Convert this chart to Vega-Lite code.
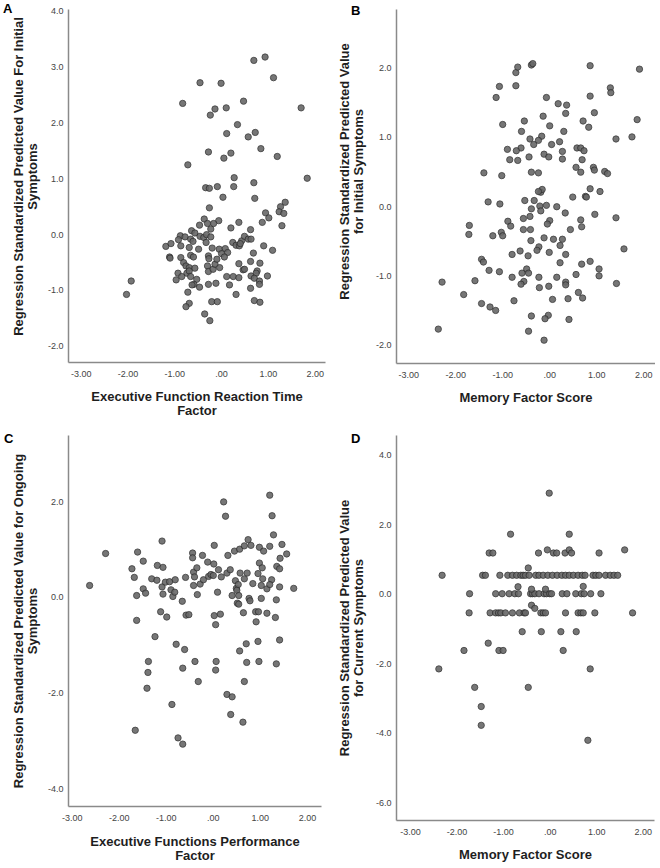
{
  "$schema": "https://vega.github.io/schema/vega-lite/v6.json",
  "background": "white",
  "padding": {"left": 3, "top": 2, "right": 0, "bottom": 0},
  "config": {
    "view": {"stroke": null},
    "axis": {"grid": false, "ticks": false, "tickSize": 0, "domainColor": "#8a8a8a", "domainWidth": 1.5, "labelFont": "Liberation Sans", "labelFontSize": 9, "labelColor": "#444444", "titleFont": "Liberation Sans", "titleFontSize": 13, "titleFontWeight": "bold", "titleColor": "#1e1e1e", "titleLineHeight": 14},
    "title": {"font": "Liberation Sans", "fontSize": 13, "fontWeight": "bold", "color": "#000000", "anchor": "start", "frame": "group", "offset": 0},
    "circle": {"size": 40, "fill": "#686868", "stroke": "#2a2a2a", "strokeWidth": 0.8, "opacity": 0.9}
  },
  "datasets": {
    "A": [
      {"x":0.94,"y":3.17},{"x":0.70,"y":3.11},{"x":1.12,"y":2.80},{"x":-0.45,"y":2.71},{"x":0.0,"y":2.70},{"x":-0.82,"y":2.34},{"x":0.48,"y":2.38},{"x":0.11,"y":2.26},{"x":-0.13,"y":2.24},{"x":-0.23,"y":2.13},{"x":1.71,"y":2.26},{"x":0.35,"y":1.96},{"x":0.12,"y":1.80},{"x":0.73,"y":1.82},{"x":0.58,"y":1.74},{"x":0.85,"y":1.53},{"x":-0.27,"y":1.47},{"x":0.21,"y":1.45},{"x":0.06,"y":1.36},{"x":1.20,"y":1.39},{"x":-0.71,"y":1.24},{"x":0.28,"y":1.01},{"x":1.84,"y":1.00},{"x":0.70,"y":0.92},{"x":-0.33,"y":0.83},{"x":-0.25,"y":0.82},{"x":-0.08,"y":0.85},{"x":0.27,"y":0.85},{"x":0.04,"y":0.66},{"x":0.72,"y":0.64},{"x":-0.25,"y":0.47},{"x":1.37,"y":0.57},{"x":1.27,"y":0.49},{"x":0.95,"y":0.38},{"x":1.24,"y":0.40},{"x":1.34,"y":0.37},{"x":1.02,"y":0.29},{"x":-0.36,"y":0.27},{"x":-0.05,"y":0.24},{"x":-0.46,"y":0.16},{"x":-0.16,"y":0.19},{"x":-0.29,"y":0.19},{"x":0.21,"y":0.11},{"x":0.38,"y":0.21},{"x":0.88,"y":0.21},{"x":1.30,"y":0.15},{"x":0.63,"y":0.08},{"x":-0.22,"y":0.09},{"x":-0.63,"y":0.06},{"x":-0.56,"y":0.02},{"x":-0.87,"y":-0.03},{"x":-0.77,"y":-0.05},{"x":-0.45,"y":-0.04},{"x":-0.37,"y":-0.06},{"x":-0.31,"y":-0.01},{"x":-0.22,"y":-0.05},{"x":-1.18,"y":-0.22},{"x":-1.07,"y":-0.17},{"x":-0.91,"y":-0.10},{"x":-0.65,"y":-0.09},{"x":-0.60,"y":-0.13},{"x":-0.32,"y":-0.15},{"x":-0.86,"y":-0.21},{"x":-0.68,"y":-0.24},{"x":-0.48,"y":-0.27},{"x":-0.19,"y":-0.25},{"x":-0.04,"y":-0.27},{"x":0.09,"y":-0.26},{"x":0.14,"y":-0.33},{"x":0.01,"y":-0.35},{"x":0.25,"y":-0.15},{"x":0.32,"y":-0.20},{"x":0.39,"y":-0.21},{"x":0.44,"y":-0.12},{"x":0.50,"y":-0.04},{"x":0.58,"y":-0.09},{"x":0.64,"y":-0.09},{"x":0.41,"y":-0.17},{"x":0.91,"y":-0.21},{"x":1.10,"y":-0.29},{"x":-1.10,"y":-0.41},{"x":-1.09,"y":-0.43},{"x":-0.86,"y":-0.42},{"x":-0.80,"y":-0.51},{"x":-0.65,"y":-0.38},{"x":-0.59,"y":-0.41},{"x":-0.27,"y":-0.39},{"x":-0.26,"y":-0.44},{"x":0.07,"y":-0.41},{"x":0.69,"y":-0.34},{"x":-0.75,"y":-0.57},{"x":-0.68,"y":-0.60},{"x":-0.56,"y":-0.61},{"x":-0.29,"y":-0.57},{"x":-0.27,"y":-0.67},{"x":-0.17,"y":-0.63},{"x":-0.13,"y":-0.54},{"x":-0.03,"y":-0.60},{"x":0.38,"y":-0.53},{"x":0.63,"y":-0.49},{"x":0.83,"y":-0.52},{"x":-0.92,"y":-0.70},{"x":-0.73,"y":-0.70},{"x":-0.68,"y":-0.66},{"x":0.47,"y":-0.64},{"x":0.50,"y":-0.63},{"x":0.77,"y":-0.66},{"x":0.75,"y":-0.70},{"x":-0.84,"y":-0.76},{"x":-0.65,"y":-0.76},{"x":-0.52,"y":-0.81},{"x":0.12,"y":-0.76},{"x":0.26,"y":-0.76},{"x":0.38,"y":-0.78},{"x":0.64,"y":-0.75},{"x":0.71,"y":-0.79},{"x":0.99,"y":-0.75},{"x":0.82,"y":-0.84},{"x":-0.96,"y":-0.82},{"x":-0.58,"y":-0.90},{"x":-0.62,"y":-0.91},{"x":-0.27,"y":-0.90},{"x":-0.11,"y":-0.88},{"x":0.18,"y":-0.91},{"x":0.82,"y":-0.90},{"x":-0.46,"y":-0.95},{"x":0.63,"y":-0.97},{"x":-1.92,"y":-0.84},{"x":-2.02,"y":-1.08},{"x":-0.71,"y":-1.04},{"x":0.32,"y":-1.08},{"x":-0.68,"y":-1.24},{"x":-0.75,"y":-1.30},{"x":-0.20,"y":-1.21},{"x":-0.08,"y":-1.21},{"x":0.71,"y":-1.19},{"x":0.83,"y":-1.22},{"x":-0.35,"y":-1.43},{"x":-0.24,"y":-1.55},{"x":-0.09,"y":-0.45}
    ],
    "B": [
      {"x":-2.36,"y":-1.78},{"x":-2.28,"y":-1.10},{"x":-1.82,"y":-1.28},{"x":-1.58,"y":-1.08},{"x":-1.44,"y":-1.41},{"x":-1.26,"y":-1.46},{"x":-1.14,"y":-1.51},{"x":-1.44,"y":-0.77},{"x":-1.40,"y":-0.81},{"x":-1.28,"y":-0.93},{"x":-1.06,"y":-0.95},{"x":-1.70,"y":-0.28},{"x":-1.71,"y":-0.41},{"x":-1.39,"y":0.48},{"x":-1.30,"y":0.06},{"x":-1.20,"y":-0.43},{"x":-1.05,"y":0.03},{"x":-1.02,"y":-0.38},{"x":-0.99,"y":-0.43},{"x":-1.01,"y":0.44},{"x":-0.99,"y":1.18},{"x":-1.13,"y":1.57},{"x":-1.06,"y":1.73},{"x":-0.71,"y":1.93},{"x":-0.67,"y":2.01},{"x":-0.71,"y":1.74},{"x":-0.38,"y":2.04},{"x":-0.35,"y":2.06},{"x":-0.06,"y":1.57},{"x":0.19,"y":1.48},{"x":0.37,"y":1.46},{"x":0.35,"y":1.34},{"x":-0.13,"y":1.30},{"x":-0.53,"y":1.23},{"x":-0.59,"y":1.08},{"x":0.01,"y":1.16},{"x":0.31,"y":1.08},{"x":-0.41,"y":0.97},{"x":-0.16,"y":1.01},{"x":-0.23,"y":0.95},{"x":-0.33,"y":0.89},{"x":-0.60,"y":0.84},{"x":-0.89,"y":0.82},{"x":-0.70,"y":0.80},{"x":-0.84,"y":0.67},{"x":-0.67,"y":0.66},{"x":-0.43,"y":0.71},{"x":-0.11,"y":0.75},{"x":-0.01,"y":0.71},{"x":0.05,"y":0.89},{"x":0.22,"y":0.93},{"x":0.28,"y":0.79},{"x":0.28,"y":0.68},{"x":-0.38,"y":0.49},{"x":-0.23,"y":0.48},{"x":0.59,"y":0.84},{"x":0.67,"y":0.84},{"x":0.74,"y":0.80},{"x":0.70,"y":0.67},{"x":0.57,"y":0.56},{"x":0.67,"y":0.49},{"x":0.94,"y":0.56},{"x":0.96,"y":0.52},{"x":1.18,"y":0.50},{"x":1.24,"y":0.47},{"x":0.72,"y":1.23},{"x":0.84,"y":1.14},{"x":0.96,"y":1.35},{"x":0.87,"y":1.59},{"x":0.87,"y":2.03},{"x":1.30,"y":1.71},{"x":1.31,"y":1.64},{"x":1.92,"y":1.98},{"x":1.87,"y":1.25},{"x":1.76,"y":1.00},{"x":1.42,"y":0.97},{"x":0.87,"y":0.25},{"x":1.08,"y":0.21},{"x":0.77,"y":0.14},{"x":0.79,"y":0.13},{"x":0.50,"y":0.13},{"x":-0.18,"y":0.20},{"x":-0.15,"y":0.24},{"x":-0.23,"y":0.21},{"x":-0.52,"y":0.08},{"x":-0.32,"y":0.08},{"x":-0.38,"y":-0.04},{"x":-0.06,"y":0.01},{"x":-0.20,"y":0.00},{"x":0.16,"y":-0.01},{"x":-0.18,"y":-0.07},{"x":-0.41,"y":-0.15},{"x":-0.55,"y":-0.18},{"x":0.01,"y":-0.21},{"x":-0.04,"y":-0.26},{"x":0.34,"y":-0.10},{"x":0.67,"y":-0.20},{"x":0.69,"y":-0.30},{"x":0.45,"y":-0.34},{"x":0.97,"y":-0.12},{"x":1.42,"y":-0.17},{"x":-0.88,"y":-0.22},{"x":-0.82,"y":-0.29},{"x":-0.55,"y":-0.34},{"x":-0.40,"y":-0.34},{"x":-0.39,"y":-0.50},{"x":-0.11,"y":-0.46},{"x":0.09,"y":-0.48},{"x":0.28,"y":-0.48},{"x":0.23,"y":-0.57},{"x":-0.22,"y":-0.59},{"x":-0.26,"y":-0.64},{"x":-0.62,"y":-0.65},{"x":-0.79,"y":-0.70},{"x":-0.45,"y":-0.72},{"x":0.00,"y":-0.67},{"x":0.35,"y":-0.70},{"x":1.59,"y":-0.62},{"x":0.23,"y":-0.82},{"x":0.69,"y":-0.84},{"x":0.87,"y":-0.80},{"x":1.06,"y":-0.91},{"x":1.06,"y":-1.01},{"x":0.57,"y":-0.99},{"x":-0.48,"y":-0.91},{"x":-0.44,"y":-0.97},{"x":-0.58,"y":-0.97},{"x":-0.79,"y":-1.03},{"x":-0.54,"y":-1.09},{"x":-0.60,"y":-1.13},{"x":-0.22,"y":-1.03},{"x":0.16,"y":-1.03},{"x":0.35,"y":-1.10},{"x":0.35,"y":-1.14},{"x":-0.21,"y":-1.18},{"x":-0.01,"y":-1.16},{"x":1.43,"y":-1.12},{"x":0.62,"y":-1.25},{"x":0.71,"y":-1.33},{"x":0.40,"y":-1.34},{"x":0.07,"y":-1.35},{"x":-0.75,"y":-1.37},{"x":-0.38,"y":-1.59},{"x":-0.02,"y":-1.58},{"x":-0.09,"y":-1.63},{"x":0.42,"y":-1.64},{"x":-0.44,"y":-1.81},{"x":-0.11,"y":-1.94}
    ],
    "C": [
      {"x":-2.62,"y":0.24},{"x":-2.28,"y":0.91},{"x":-1.72,"y":0.59},{"x":-1.67,"y":0.41},{"x":-1.62,"y":0.03},{"x":-1.60,"y":0.94},{"x":-1.48,"y":0.75},{"x":-1.48,"y":0.17},{"x":-1.43,"y":0.08},{"x":-1.62,"y":-0.49},{"x":-1.65,"y":-2.79},{"x":-1.37,"y":-1.35},{"x":-1.38,"y":-1.58},{"x":-1.40,"y":-1.91},{"x":-1.23,"y":-0.83},{"x":-1.30,"y":0.38},{"x":-1.19,"y":0.35},{"x":-1.18,"y":0.66},{"x":-1.06,"y":0.62},{"x":-1.08,"y":1.17},{"x":-1.11,"y":-0.31},{"x":-1.08,"y":0.21},{"x":-1.06,"y":0.06},{"x":-1.01,"y":0.31},{"x":-0.98,"y":-0.42},{"x":-0.92,"y":0.32},{"x":-0.89,"y":0.15},{"x":-0.85,"y":0.01},{"x":-0.81,"y":0.10},{"x":-0.80,"y":0.36},{"x":-0.87,"y":-2.25},{"x":-0.78,"y":-0.99},{"x":-0.74,"y":-2.95},{"x":-0.65,"y":-0.09},{"x":-0.64,"y":-3.08},{"x":-0.60,"y":-1.10},{"x":-0.64,"y":-1.49},{"x":-0.57,"y":-0.38},{"x":-0.51,"y":-0.37},{"x":-0.58,"y":0.41},{"x":-0.43,"y":0.92},{"x":-0.43,"y":0.82},{"x":-0.41,"y":0.52},{"x":-0.39,"y":0.42},{"x":-0.34,"y":0.61},{"x":-0.41,"y":0.24},{"x":-0.33,"y":0.05},{"x":-0.27,"y":0.27},{"x":-0.22,"y":0.87},{"x":-0.20,"y":0.36},{"x":-0.38,"y":-1.35},{"x":-0.31,"y":-1.77},{"x":-0.11,"y":0.73},{"x":-0.09,"y":0.43},{"x":-0.04,"y":0.47},{"x":0.03,"y":1.08},{"x":0.02,"y":0.69},{"x":0.01,"y":0.45},{"x":0.12,"y":0.57},{"x":0.10,"y":0.10},{"x":0.03,"y":-0.39},{"x":0.06,"y":-0.58},{"x":0.16,"y":-0.36},{"x":0.07,"y":-1.35},{"x":0.06,"y":-1.53},{"x":0.18,"y":0.42},{"x":0.23,"y":1.99},{"x":0.27,"y":1.69},{"x":0.32,"y":0.87},{"x":0.30,"y":0.50},{"x":0.37,"y":0.57},{"x":0.46,"y":0.96},{"x":0.57,"y":1.00},{"x":0.67,"y":1.07},{"x":0.75,"y":1.20},{"x":0.81,"y":1.08},{"x":0.41,"y":0.03},{"x":0.48,"y":0.34},{"x":0.50,"y":0.18},{"x":0.54,"y":0.26},{"x":0.51,"y":0.14},{"x":0.52,"y":-0.13},{"x":0.55,"y":-0.15},{"x":0.55,"y":0.03},{"x":0.58,"y":0.50},{"x":0.67,"y":0.38},{"x":0.73,"y":0.50},{"x":0.77,"y":-0.03},{"x":0.79,"y":-0.08},{"x":0.85,"y":0.28},{"x":0.65,"y":-0.33},{"x":0.71,"y":-0.98},{"x":0.57,"y":-1.13},{"x":0.72,"y":-1.37},{"x":0.67,"y":-1.77},{"x":0.30,"y":-2.04},{"x":0.41,"y":-2.09},{"x":0.38,"y":-2.46},{"x":0.64,"y":-2.62},{"x":0.91,"y":-0.31},{"x":0.97,"y":-0.31},{"x":0.92,"y":-0.52},{"x":0.96,"y":-0.93},{"x":0.98,"y":-1.35},{"x":0.99,"y":0.71},{"x":0.99,"y":1.04},{"x":1.05,"y":0.61},{"x":1.08,"y":0.96},{"x":1.06,"y":0.38},{"x":1.03,"y":0.24},{"x":0.96,"y":0.49},{"x":1.03,"y":-0.03},{"x":1.15,"y":0.17},{"x":1.21,"y":2.13},{"x":1.26,"y":1.70},{"x":1.21,"y":1.06},{"x":1.25,"y":0.36},{"x":1.29,"y":1.30},{"x":1.15,"y":-0.34},{"x":1.21,"y":0.26},{"x":1.35,"y":-0.06},{"x":1.33,"y":-0.43},{"x":1.36,"y":0.64},{"x":1.42,"y":0.59},{"x":1.43,"y":0.81},{"x":1.47,"y":1.10},{"x":1.57,"y":0.90},{"x":1.42,"y":0.21},{"x":1.42,"y":-0.90},{"x":1.35,"y":-1.40},{"x":1.72,"y":0.18}
    ],
    "D": [
      {"x":-0.01,"y":2.89},{"x":-0.84,"y":1.71},{"x":0.42,"y":1.71},
      {"x":-1.30,"y":1.17},{"x":-1.22,"y":1.17},{"x":-0.24,"y":1.17},{"x":-0.05,"y":1.26},{"x":0.08,"y":1.17},{"x":0.15,"y":1.17},{"x":0.33,"y":1.17},{"x":0.42,"y":1.26},{"x":0.47,"y":1.17},{"x":1.06,"y":1.17},{"x":1.61,"y":1.26},
      {"x":-2.31,"y":0.53},{"x":-1.44,"y":0.53},{"x":-1.38,"y":0.53},{"x":-1.07,"y":0.53},{"x":-0.90,"y":0.53},{"x":-0.80,"y":0.53},{"x":-0.71,"y":0.53},{"x":-0.62,"y":0.53},{"x":-0.57,"y":0.53},{"x":-0.52,"y":0.53},{"x":-0.44,"y":0.53},{"x":-0.30,"y":0.53},{"x":-0.23,"y":0.53},{"x":-0.14,"y":0.53},{"x":-0.04,"y":0.53},{"x":0.06,"y":0.53},{"x":0.16,"y":0.53},{"x":0.26,"y":0.53},{"x":0.34,"y":0.53},{"x":0.42,"y":0.53},{"x":0.51,"y":0.53},{"x":0.61,"y":0.53},{"x":0.70,"y":0.53},{"x":0.76,"y":0.53},{"x":0.93,"y":0.53},{"x":0.99,"y":0.53},{"x":1.06,"y":0.53},{"x":1.20,"y":0.53},{"x":1.30,"y":0.53},{"x":1.38,"y":0.53},{"x":1.46,"y":0.53},{"x":-0.46,"y":0.74},
      {"x":-1.72,"y":0.0},{"x":-1.16,"y":0.0},{"x":-1.02,"y":0.0},{"x":-0.87,"y":0.0},{"x":-0.75,"y":0.0},{"x":-0.67,"y":0.0},{"x":-0.41,"y":0.0},{"x":-0.37,"y":0.0},{"x":-0.32,"y":0.0},{"x":-0.23,"y":0.0},{"x":-0.12,"y":0.0},{"x":-0.07,"y":0.0},{"x":0.0,"y":0.0},{"x":0.04,"y":0.0},{"x":0.27,"y":0.0},{"x":0.37,"y":0.0},{"x":0.56,"y":0.0},{"x":0.68,"y":0.0},{"x":0.74,"y":0.0},{"x":0.88,"y":0.0},{"x":1.10,"y":0.0},
      {"x":-0.68,"y":0.20},{"x":-0.39,"y":0.13},{"x":-0.09,"y":0.13},{"x":0.72,"y":0.21},
      {"x":-1.73,"y":-0.55},{"x":-1.28,"y":-0.55},{"x":-1.16,"y":-0.55},{"x":-1.10,"y":-0.55},{"x":-1.05,"y":-0.55},{"x":-0.95,"y":-0.55},{"x":-0.80,"y":-0.55},{"x":-0.65,"y":-0.55},{"x":-0.55,"y":-0.55},{"x":-0.52,"y":-0.55},{"x":-0.19,"y":-0.55},{"x":-0.14,"y":-0.55},{"x":-0.09,"y":-0.55},{"x":0.34,"y":-0.55},{"x":0.61,"y":-0.55},{"x":0.67,"y":-0.55},{"x":0.72,"y":-0.55},{"x":0.97,"y":-0.55},{"x":1.78,"y":-0.55},
      {"x":-0.39,"y":-0.33},{"x":-0.32,"y":-0.42},
      {"x":-0.59,"y":-1.09},{"x":-0.18,"y":-1.09},{"x":0.24,"y":-1.09},{"x":0.57,"y":-1.09},
      {"x":-1.84,"y":-1.63},{"x":-1.09,"y":-1.63},{"x":-1.00,"y":-1.63},{"x":0.29,"y":-1.63},{"x":-1.32,"y":-1.42},
      {"x":-2.38,"y":-2.16},{"x":0.87,"y":-2.16},
      {"x":-1.61,"y":-2.69},{"x":-0.46,"y":-2.69},{"x":-1.47,"y":-3.24},{"x":-1.47,"y":-3.78},{"x":0.82,"y":-4.21}
    ]
  },
  "columns": 2,
  "bounds": "flush",
  "spacing": {"row": 72, "column": 71},
  "concat": [
    {
      "title": {"text": "A", "dx": -65, "dy": 13},
      "width": 257, "height": 353,
      "data": {"name": "A"},
      "mark": {"type": "circle"},
      "encoding": {
        "x": {"field": "x", "type": "quantitative", "scale": {"domain": [-3.27, 2.22], "nice": false, "zero": false},
          "axis": {"values": [-3, -2, -1, 0, 1, 2], "labelExpr": "datum.value == 0 ? '.00' : replace(format(datum.value, '.2f'), '−', '-')", "title": ["Executive Function Reaction Time", "Factor"], "labelPadding": 7, "titlePadding": 12}},
        "y": {"field": "y", "type": "quantitative", "scale": {"domain": [-2.29, 4.03], "nice": false, "zero": false},
          "axis": {"values": [-2, -1, 0, 1, 2, 3, 4], "labelExpr": "replace(format(datum.value, '.1f'), '−', '-')", "title": ["Regression Standardized Predicted Value For Initial", "Symptoms"], "labelPadding": 5, "titlePadding": 8, "titleY": 167}}
      }
    },
    {
      "title": {"text": "B", "dx": -45, "dy": 13},
      "width": 259, "height": 354,
      "data": {"name": "B"},
      "mark": {"type": "circle"},
      "encoding": {
        "x": {"field": "x", "type": "quantitative", "scale": {"domain": [-3.26, 2.25], "nice": false, "zero": false},
          "axis": {"values": [-3, -2, -1, 0, 1, 2], "labelExpr": "datum.value == 0 ? '.00' : replace(format(datum.value, '.2f'), '−', '-')", "title": "Memory Factor Score", "labelPadding": 7, "titlePadding": 12}},
        "y": {"field": "y", "type": "quantitative", "scale": {"domain": [-2.27, 2.85], "nice": false, "zero": false},
          "axis": {"values": [-2, -1, 0, 1, 2], "labelExpr": "replace(format(datum.value, '.1f'), '−', '-')", "title": ["Regression Standardized Predicted Value", "for Initial Symptoms"], "labelPadding": 5, "titlePadding": 10, "titleY": 162}}
      }
    },
    {
      "title": {"text": "C", "dx": -64, "dy": 15},
      "width": 253, "height": 371,
      "data": {"name": "C"},
      "mark": {"type": "circle"},
      "encoding": {
        "x": {"field": "x", "type": "quantitative", "scale": {"domain": [-3.08, 2.30], "nice": false, "zero": false},
          "axis": {"values": [-3, -2, -1, 0, 1, 2], "labelExpr": "datum.value == 0 ? '.00' : replace(format(datum.value, '.2f'), '−', '-')", "title": ["Executive Functions Performance", "Factor"], "labelPadding": 7, "titlePadding": 13}},
        "y": {"field": "y", "type": "quantitative", "scale": {"domain": [-4.375, 3.39], "nice": false, "zero": false},
          "axis": {"values": [-4, -2, 0, 2], "labelExpr": "replace(format(datum.value, '.1f'), '−', '-')", "title": ["Regression Standardized Predicted Value for Ongoing", "Symptoms"], "labelPadding": 5, "titlePadding": 8}}
      }
    },
    {
      "title": {"text": "D", "dx": -45, "dy": 15},
      "width": 258, "height": 385,
      "data": {"name": "D"},
      "mark": {"type": "circle"},
      "encoding": {
        "x": {"field": "x", "type": "quantitative", "scale": {"domain": [-3.3, 2.24], "nice": false, "zero": false},
          "axis": {"values": [-3, -2, -1, 0, 1, 2], "labelExpr": "datum.value == 0 ? '.00' : replace(format(datum.value, '.2f'), '−', '-')", "title": "Memory Factor Score", "labelPadding": 7, "titlePadding": 12}},
        "y": {"field": "y", "type": "quantitative", "scale": {"domain": [-6.5, 4.56], "nice": false, "zero": false},
          "axis": {"values": [-6, -4, -2, 0, 2, 4], "labelExpr": "replace(format(datum.value, '.1f'), '−', '-')", "title": ["Regression Standardized Predicted Value", "for Current Symptoms"], "labelPadding": 5, "titlePadding": 10}}
      }
    }
  ]
}
